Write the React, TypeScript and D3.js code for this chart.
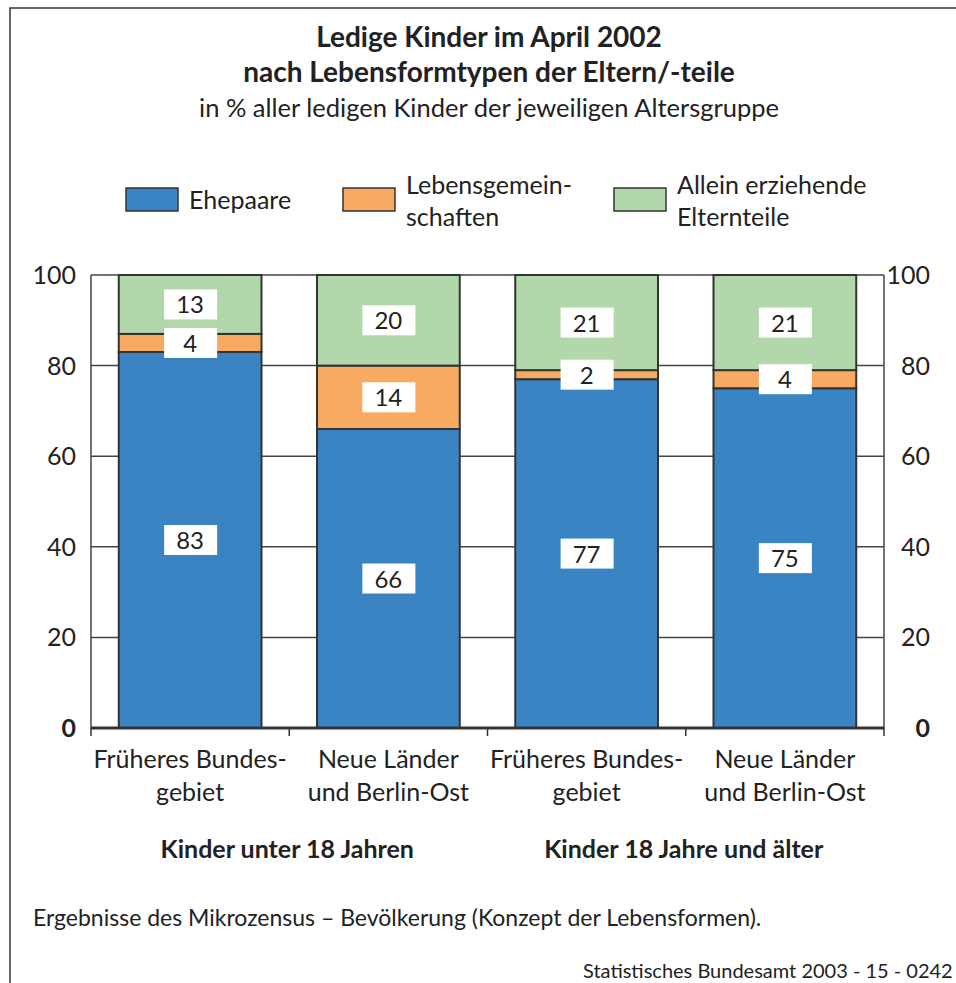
import React from "react";
import * as d3 from "d3";

const categories = [
  ["Früheres Bundes-", "gebiet"],
  ["Neue Länder", "und Berlin-Ost"],
  ["Früheres Bundes-", "gebiet"],
  ["Neue Länder", "und Berlin-Ost"],
];
const ehepaare = [83, 66, 77, 75];
const lebensgemeinschaften = [4, 14, 2, 4];
const alleinErziehende = [13, 20, 21, 21];
const seriesNames = [["Ehepaare"], ["Lebensgemein-", "schaften"], ["Allein erziehende", "Elternteile"]];
const groupLabels = ["Kinder unter 18 Jahren", "Kinder 18 Jahre und älter"];
const yTicks = [0, 20, 40, 60, 80, 100];

const colors = ["#3b84c4", "#f8aa62", "#b2d7ab"];
const FONT = "Lato, 'Noto Sans', sans-serif";
const TXT = "#222";

export default function App() {
  const left = 91, right = 884, top = 275, bottom = 728;
  const x = d3.scaleBand<number>().domain(d3.range(categories.length)).range([left, right]).paddingInner(0.28).paddingOuter(0.14);
  const bandStep = (right - left) / categories.length;
  const y = d3.scaleLinear().domain([0, 100]).range([bottom, top]);

  const rows = categories.map((_, i) => ({ i, a: ehepaare[i], b: lebensgemeinschaften[i], c: alleinErziehende[i] }));
  const stack = d3.stack<any>().keys(["a", "b", "c"])(rows);

  const legendX = [126, 343, 614];
  const FS = 25;

  return (
    <svg width={956} height={983} style={{ position: "absolute", left: 0, top: 0, background: "#fff" }} fontFamily={FONT}>
      <rect x={10} y={8} width={1000} height={1100} fill="#fff" stroke="#333" strokeWidth={1.5} />
      <text x={489} y={47} textAnchor="middle" fontSize={28} fontWeight="bold" fill={TXT}>Ledige Kinder im April 2002</text>
      <text x={489} y={82} textAnchor="middle" fontSize={28} fontWeight="bold" fill={TXT}>nach Lebensformtypen der Eltern/-teile</text>
      <text x={489} y={117} textAnchor="middle" fontSize={25.5} fill={TXT}>in % aller ledigen Kinder der jeweiligen Altersgruppe</text>

      {seriesNames.map((lines, k) => (
        <g key={k}>
          <rect x={legendX[k]} y={188} width={52} height={23} fill={colors[k]} stroke="#333" strokeWidth={1.5} />
          {lines.map((l, j) => (
            <text key={j} x={legendX[k] + 63} y={lines.length === 1 ? 209 : 194 + j * 32} fontSize={FS} fill={TXT}>{l}</text>
          ))}
        </g>
      ))}

      {yTicks.filter(t => t > 0).map(t => (
        <line key={t} x1={left} x2={right} y1={y(t)} y2={y(t)} stroke="#444" strokeWidth={1.5} />
      ))}
      <line x1={left} x2={left} y1={top} y2={bottom} stroke="#444" strokeWidth={1.5} />
      <line x1={right} x2={right} y1={top} y2={bottom} stroke="#444" strokeWidth={1.5} />

      {stack.map((s, k) => (
        <g key={k}>
          {s.map((d, i) => (
            <rect key={i} x={x(i)} y={y(d[1])} width={x.bandwidth()} height={y(d[0]) - y(d[1])} fill={colors[k]} stroke="#333" strokeWidth={2} />
          ))}
        </g>
      ))}

      {stack.map((s, k) => (
        <g key={"l" + k}>
          {s.map((d, i) => {
            const cx = (x(i) as number) + x.bandwidth() / 2;
            const cy = y((d[0] + d[1]) / 2);
            return (
              <g key={i}>
                <rect x={cx - 26} y={cy - 15} width={53} height={30} fill="#fff" />
                <text x={cx} y={cy + 9} textAnchor="middle" fontSize={24} fill={TXT}>{d[1] - d[0]}</text>
              </g>
            );
          })}
        </g>
      ))}

      <line x1={left} x2={right} y1={bottom} y2={bottom} stroke="#333" strokeWidth={3} />
      {d3.range(categories.length + 1).map(i => (
        <line key={i} x1={left + i * bandStep} x2={left + i * bandStep} y1={bottom} y2={bottom + 8} stroke="#333" strokeWidth={1.5} />
      ))}

      {yTicks.map(t => (
        <g key={t}>
          <text x={76} y={y(t) + 9} textAnchor="end" fontSize={FS} fontWeight={t === 0 ? "bold" : "normal"} fill={TXT}>{t}</text>
          <text x={930} y={y(t) + 9} textAnchor="end" fontSize={FS} fontWeight={t === 0 ? "bold" : "normal"} fill={TXT}>{t}</text>
        </g>
      ))}

      {categories.map((lines, i) => (
        <g key={i}>
          {lines.map((l, j) => (
            <text key={j} x={left + (i + 0.5) * bandStep} y={768 + j * 33} textAnchor="middle" fontSize={FS} fill={TXT}>{l}</text>
          ))}
        </g>
      ))}

      {groupLabels.map((g, i) => (
        <text key={i} x={left + (i * 2 + 1) * bandStep - 2} y={858} textAnchor="middle" fontSize={25} fontWeight="bold" fill={TXT}>{g}</text>
      ))}

      <text x={33} y={926} fontSize={23} fill={TXT}>Ergebnisse des Mikrozensus – Bevölkerung (Konzept der Lebensformen).</text>
      <text x={583} y={978} fontSize={20} fill={TXT}>Statistisches Bundesamt 2003 - 15 - 0242</text>
    </svg>
  );
}
